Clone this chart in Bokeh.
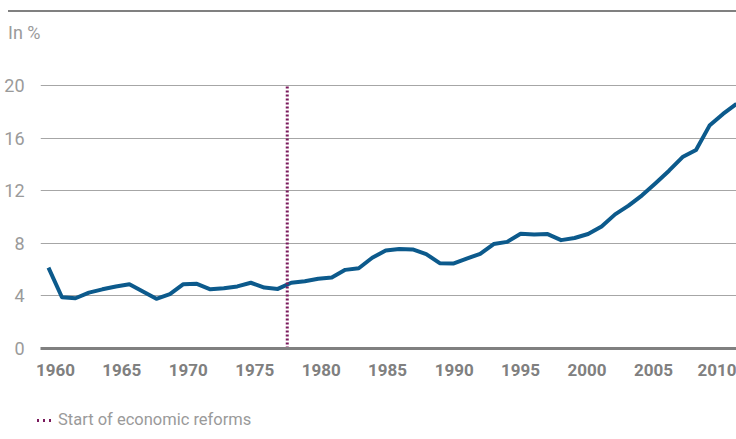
from bokeh.plotting import figure
from bokeh.models import FixedTicker, Div
from bokeh.layouts import column
from bokeh.embed import file_html
from bokeh.resources import INLINE

# ---- data ----
years = list(range(1960, 2012))
share = [6.15, 3.90, 3.82, 4.25, 4.50, 4.72, 4.89, 4.33, 3.78, 4.13,
         4.89, 4.92, 4.50, 4.58, 4.72, 5.00, 4.63, 4.53, 5.00, 5.12,
         5.30, 5.40, 5.98, 6.10, 6.90, 7.45, 7.56, 7.53, 7.18, 6.49,
         6.46, 6.84, 7.20, 7.94, 8.11, 8.73, 8.66, 8.70, 8.24, 8.40,
         8.71, 9.28, 10.20, 10.86, 11.65, 12.57, 13.52, 14.56, 15.10, 16.95,
         17.84, 18.60]
reform_year = 1977.7
y_ticks = [0, 4, 8, 12, 16, 20]
x_tick_years = [1960, 1965, 1970, 1975, 1980, 1985, 1990, 1995, 2000, 2005, 2010]
x_tick_labels = [str(y) for y in x_tick_years]
unit_label = "In %"
reform_label = "Start of economic reforms"

GREY_TXT = "#9a9a9a"
GREY_AX = "#808080"
BLUE = "#0c5a8c"
PURPLE = "#7a1a5c"
FONT = "Roboto"

# label positions (slightly shifted relative to data points, as in source)
x_tick_pos = [round(1960.52 + 0.9849 * (y - 1960), 2) for y in x_tick_years]

p = figure(frame_width=696, frame_height=268, x_range=(1959.41, 2011.0), y_range=(0, 20.38),
           output_backend="svg", toolbar_location=None,
           min_border_left=40, min_border_right=0, min_border_top=32, min_border_bottom=40)
p.outline_line_color = None
p.background_fill_color = "white"
p.border_fill_color = "white"

# x axis
xa = p.xaxis[0]
xa.ticker = FixedTicker(ticks=x_tick_pos)
xa.major_label_overrides = {pos: lab for pos, lab in zip(x_tick_pos, x_tick_labels)}
xa.axis_line_color = GREY_AX
xa.axis_line_width = 3
xa.major_tick_line_color = None
xa.minor_tick_line_color = None
xa.major_label_text_font = FONT
xa.major_label_text_font_style = "bold"
xa.major_label_text_font_size = "17px"
xa.major_label_text_color = GREY_AX
xa.major_label_standoff = 9

# y axis
ya = p.yaxis[0]
ya.ticker = FixedTicker(ticks=y_ticks)
ya.axis_line_color = None
ya.major_tick_line_color = None
ya.minor_tick_line_color = None
ya.major_label_text_font = FONT
ya.major_label_text_font_size = "18px"
ya.major_label_text_color = GREY_TXT
ya.major_label_standoff = 10

p.xgrid.grid_line_color = None
p.ygrid.ticker = FixedTicker(ticks=y_ticks)
p.ygrid.grid_line_color = "#a6a6a6"
p.ygrid.grid_line_width = 1.2

p.line(years, share, line_color=BLUE, line_width=4, line_join="round")
p.line([reform_year, reform_year], [y_ticks[0], y_ticks[-1]],
       line_color=PURPLE, line_width=3, line_dash="2 2")

header = Div(text=(f'<div style="width:728px;height:2px;background:{GREY_AX};margin:10px 0 0 8px"></div>'
                   f'<div style="margin:11px 0 0 8px;font-family:Roboto;font-size:18px;'
                   f'line-height:20px;color:{GREY_TXT};white-space:nowrap">{unit_label}</div>'),
             width=736, height=48, margin=0)

swatch = (f'<span style="display:inline-block;width:14px;height:3px;margin-right:7px;'
          f'background:repeating-linear-gradient(to right,{PURPLE} 0 2px,transparent 2px 6px)"></span>')
legend_div = Div(text=(f'<div style="margin-top:22px;margin-left:37px;display:flex;align-items:center;'
                       f'font-family:Roboto;font-size:16.5px;line-height:20px;color:{GREY_TXT};white-space:nowrap">'
                       f'{swatch}<span>{reform_label}</span></div>'),
                 width=736, height=48, margin=0)

layout = column(header, p, legend_div, spacing=0)
open("out.html", "w").write(file_html(layout, INLINE))
